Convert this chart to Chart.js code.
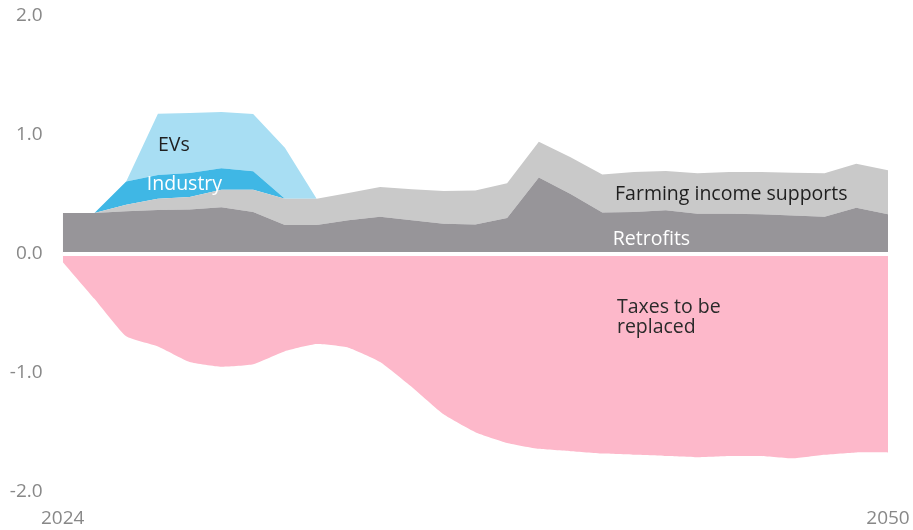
<!DOCTYPE html>
<html>
<head>
<meta charset="utf-8">
<script src="https://cdn.jsdelivr.net/npm/chart.js@4"></script>
<style>
  html, body { margin: 0; padding: 0; background: #fff; overflow: hidden; }
  canvas { display: block; }
</style>
</head>
<body>
<canvas id="balanceChart" width="913" height="530"></canvas>
<script>
// years on the x axis, only the ends get a label
const years = [];
for (let y = 2024; y <= 2050; y++) years.push(String(y));
const yTicks = [2, 1, 0, -1, -2];

// positive side, stacked bottom to top
const retrofits = [0.34, 0.34, 0.355, 0.366, 0.37, 0.39, 0.35, 0.24, 0.24, 0.28, 0.31, 0.28, 0.25, 0.245,
  0.30, 0.64, 0.50, 0.345, 0.35, 0.365, 0.335, 0.335, 0.33, 0.32, 0.31, 0.385, 0.33];
const farming = [0, 0, 0.055, 0.094, 0.106, 0.147, 0.187, 0.22, 0.22, 0.23, 0.25, 0.26, 0.275, 0.285,
  0.29, 0.30, 0.31, 0.32, 0.335, 0.328, 0.339, 0.35, 0.355, 0.36, 0.364, 0.37, 0.37];
const industry = [0, 0, 0.195, 0.20, 0.20, 0.18, 0.155, 0, 0, 0, 0, 0, 0, 0,
  0, 0, 0, 0, 0, 0, 0, 0, 0, 0, 0, 0, 0];
const evs = [0, 0, 0, 0.515, 0.505, 0.473, 0.48, 0.43, 0, 0, 0, 0, 0, 0,
  0, 0, 0, 0, 0, 0, 0, 0, 0, 0, 0, 0, 0];

// negative side
const taxes = [-0.07, -0.38, -0.695, -0.78, -0.91, -0.95, -0.93, -0.82, -0.76, -0.79, -0.91, -1.12, -1.35, -1.50,
  -1.59, -1.64, -1.66, -1.68, -1.69, -1.70, -1.71, -1.70, -1.70, -1.72, -1.69, -1.67, -1.67];

// in-chart series names (x = year index, y = value at text baseline)
const seriesLabels = [
  { text: 'EVs', x: 3.0, y: 0.864, color: '#1f1f1f' },
  { text: 'Industry', x: 2.65, y: 0.533, color: '#ffffff' },
  { text: 'Farming income supports', x: 17.4, y: 0.45, color: '#1f1f1f' },
  { text: 'Retrofits', x: 17.33, y: 0.072, color: '#ffffff' },
  { text: 'Taxes to be', x: 17.46, y: -0.497, color: '#2a2a2a' },
  { text: 'replaced', x: 17.46, y: -0.67, color: '#2a2a2a' }
];

const FONT = "'Open Sans', 'DejaVu Sans', sans-serif";

const areaLabels = {
  id: 'areaLabels',
  afterDatasetsDraw(chart) {
    const { ctx, scales: { x, y } } = chart;
    ctx.save();
    ctx.font = '19.5px ' + FONT;
    ctx.textAlign = 'left';
    ctx.textBaseline = 'alphabetic';
    seriesLabels.forEach(l => {
      ctx.fillStyle = l.color;
      ctx.fillText(l.text, x.getPixelForValue(l.x), y.getPixelForValue(l.y));
    });
    ctx.restore();
  }
};

function area(label, data, color, fill, tension) {
  return {
    label: label,
    data: data,
    backgroundColor: color,
    borderColor: 'rgba(0,0,0,0)',
    borderWidth: 0,
    pointRadius: 0,
    fill: fill,
    tension: tension || 0
  };
}

const ctx = document.getElementById('balanceChart').getContext('2d');

new Chart(ctx, {
  type: 'line',
  data: {
    labels: years,
    datasets: [
      area('Retrofits', retrofits, '#979599', 'origin'),
      area('Farming income supports', farming, '#c9c9c9', '-1'),
      area('Industry', industry, '#3fb7e5', '-1'),
      area('EVs', evs, '#a8def3', '-1'),
      area('Taxes to be replaced', taxes, '#fdb8ca', 'origin', 0.15)
    ]
  },
  options: {
    responsive: false,
    animation: false,
    layout: {
      autoPadding: false,
      padding: { top: 15.5, right: 25, bottom: 0, left: 0 }
    },
    plugins: {
      legend: { display: false },
      tooltip: { enabled: false }
    },
    scales: {
      x: {
        offset: false,
        afterFit: function (scale) {
          // keep the end labels from pushing the plot inward
          scale.paddingLeft = 0;
          scale.paddingRight = 0;
          scale.height = 38.3;
        },
        grid: { display: false, drawTicks: false },
        border: { display: false },
        ticks: {
          autoSkip: false,
          maxRotation: 0,
          padding: 15,
          color: '#888888',
          font: { size: 19, family: FONT },
          callback: function (val, i) {
            return (i === 0 || i === years.length - 1) ? years[i] : '';
          }
        }
      },
      y: {
        stacked: true,
        min: -2,
        max: 2,
        afterBuildTicks: function (scale) {
          scale.ticks = yTicks.map(v => ({ value: v }));
        },
        afterFit: function (scale) {
          scale.width = 62.7;
          scale.paddingTop = 0;
          scale.paddingBottom = 0;
        },
        grid: {
          z: 1,
          drawTicks: false,
          color: c => c.tick.value === 0 ? '#ffffff' : 'rgba(0,0,0,0)',
          lineWidth: c => c.tick.value === 0 ? 4 : 0
        },
        border: { display: false },
        ticks: {
          padding: 20,
          color: '#888888',
          font: { size: 19, family: FONT },
          callback: v => v.toFixed(1)
        }
      }
    }
  },
  plugins: [areaLabels]
});
</script>
</body>
</html>
